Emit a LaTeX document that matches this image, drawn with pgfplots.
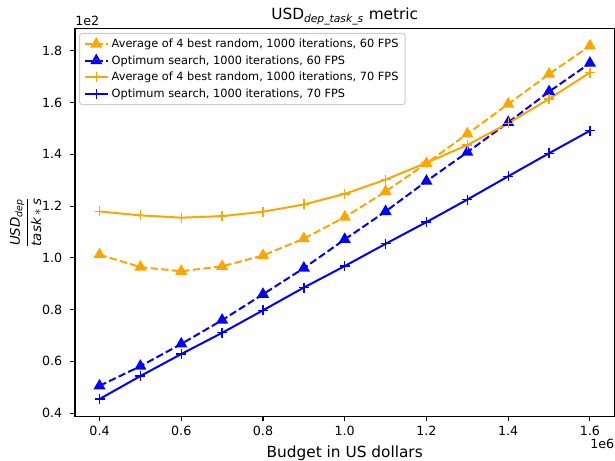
\documentclass[border=0pt]{standalone}
\usepackage{amsmath}
\usepackage{fontspec}
\setmainfont{DejaVu Sans}
\usepackage{pgfplots}
\pgfplotsset{compat=1.18}

\definecolor{mplorange}{RGB}{255,165,0}
\definecolor{mplblue}{RGB}{0,0,255}
\definecolor{legendedge}{gray}{0.8}

\newcommand{\ticksize}{\fontsize{9.5}{11}\selectfont}
\newcommand{\labsize}{\fontsize{11.5}{13}\selectfont}

\pgfplotstableread{
x    o60   b60   o70   b70
0.4  1.012 0.505 1.179 0.454
0.5  0.964 0.581 1.164 0.543
0.6  0.948 0.667 1.155 0.628
0.7  0.967 0.759 1.161 0.710
0.8  1.009 0.859 1.178 0.797
0.9  1.074 0.960 1.206 0.885
1.0  1.157 1.071 1.247 0.968
1.1  1.256 1.179 1.302 1.054
1.2  1.365 1.296 1.367 1.138
1.3  1.479 1.408 1.436 1.225
1.4  1.594 1.523 1.520 1.315
1.5  1.710 1.642 1.614 1.404
1.6  1.819 1.752 1.716 1.491
}\metric

\begin{document}
\begin{tikzpicture}
\path[use as bounding box] (-56.25pt,-33.2pt) rectangle (405pt,312.5pt);
\begin{axis}[
  scale only axis, width=404.6pt, height=291.3pt,
  xmin=0.34, xmax=1.66, ymin=0.386, ymax=1.887,
  xtick={0.4,0.6,...,1.6}, ytick={0.4,0.6,...,1.8},
  xticklabel style={font=\ticksize, /pgf/number format/fixed,
    /pgf/number format/fixed zerofill, /pgf/number format/precision=1},
  yticklabel style={font=\ticksize, xshift=-2.5pt, /pgf/number format/fixed,
    /pgf/number format/fixed zerofill, /pgf/number format/precision=1},
  /pgf/number format/assume math mode=true,
  scaled ticks=false,
  tick align=outside, tick pos=left, major tick length=3.5pt,
  tick style={black, line width=0.8pt},
  axis line style={black, line width=0.8pt},
  clip=false,
  legend cell align=left,
  legend style={at={(0.0074,0.988)}, anchor=north west,
    draw=legendedge, line width=0.8pt, rounded corners=2pt,
    fill=white, fill opacity=0.8, text opacity=1,
    font=\fontsize{8.5}{10}\selectfont, row sep=0.5pt},
  legend image code/.code={
    \draw[mark repeat=2, mark phase=2] plot coordinates {(0cm,0cm) (0.31cm,0cm) (0.62cm,0cm)};},
]
\addplot[mplorange, line width=1.5pt, dash pattern=on 5.55pt off 2.4pt,
  mark=triangle*, mark size=3.8pt, mark options={solid}] table[x=x, y=o60] {\metric};
\addlegendentry{Average of 4 best random, 1000 iterations, 60 FPS}
\addplot[mplblue, line width=1.5pt, dash pattern=on 5.55pt off 2.4pt,
  mark=triangle*, mark size=3.8pt, mark options={solid}] table[x=x, y=b60] {\metric};
\addlegendentry{Optimum search, 1000 iterations, 60 FPS}
\addplot[mplorange, line width=1.5pt,
  mark=+, mark size=3.75pt, mark options={line width=1pt}] table[x=x, y=o70] {\metric};
\addlegendentry{Average of 4 best random, 1000 iterations, 70 FPS}
\addplot[mplblue, line width=1.5pt,
  mark=+, mark size=3.75pt, mark options={line width=1pt}] table[x=x, y=b70] {\metric};
\addlegendentry{Optimum search, 1000 iterations, 70 FPS}

\node[anchor=base, font=\labsize] at ([yshift=6.5pt]rel axis cs:0.5,1)
  {USD$_{\text{\itshape dep\_task\_s}}$ metric};
\node[anchor=base, font=\labsize] at ([yshift=-30.5pt]rel axis cs:0.5,0)
  {Budget in US dollars};
\node[rotate=90, font=\fontsize{10}{12}\selectfont] at ([xshift=-37pt]rel axis cs:0,0.5)
  {$\genfrac{}{}{0.7pt}{0}{\text{\itshape USD}_{\text{\itshape dep}}}{\text{\itshape task}\ast\text{\itshape s}}$};
\node[anchor=south west, font=\ticksize, inner sep=0pt] at ([yshift=2pt]rel axis cs:0,1) {1e2};
\node[anchor=north east, font=\ticksize, inner sep=0pt] at ([yshift=-16.5pt]rel axis cs:1,0) {1e6};
\end{axis}
\end{tikzpicture}
\end{document}
